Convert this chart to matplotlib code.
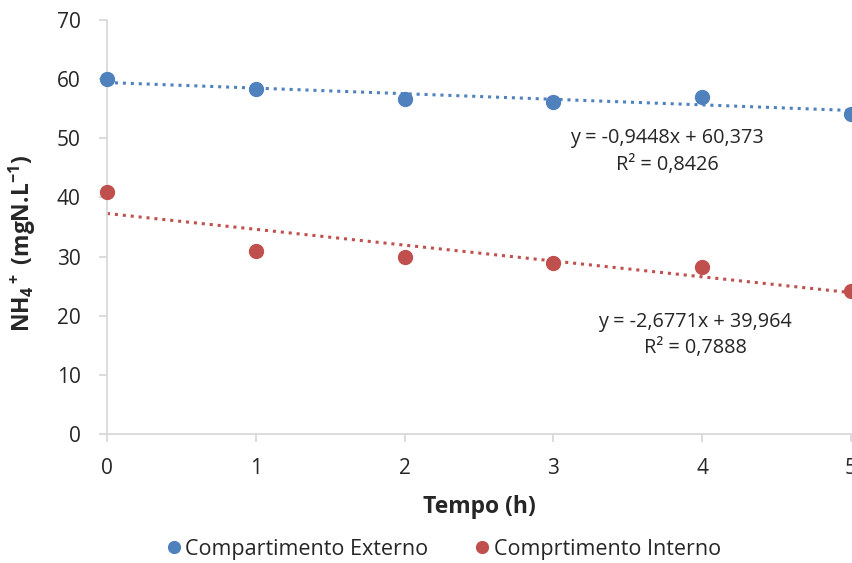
import matplotlib
matplotlib.use("Agg")
import matplotlib.pyplot as plt
import numpy as np

plt.rcParams['font.family'] = ['Open Sans', 'DejaVu Sans']
plt.rcParams['mathtext.default'] = 'regular'

# Time points (h)
tempo = [0, 1, 2, 3, 4, 5]
# NH4+ concentrations (mgN/L)
externo = [60.0, 58.3, 56.6, 56.2, 56.9, 54.1]
interno = [41.0, 31.0, 29.9, 28.9, 28.2, 24.1]

# Linear trend coefficients (x counted from 1 for the first sample)
ext_slope, ext_intercept, ext_r2 = -0.9448, 60.373, 0.8426
int_slope, int_intercept, int_r2 = -2.6771, 39.964, 0.7888

labels = ["Compartimento Externo", "Comprtimento Interno"]
blue = "#4F81BD"
red = "#C0504D"
grid_gray = "#D9D9D9"
text_col = "#262626"

fig = plt.figure(figsize=(8.53, 5.63), dpi=100)
ax = fig.add_axes([107 / 853, 1 - 434 / 563, 744 / 853, 414 / 563])

x = np.array(tempo, dtype=float)
ax.plot(x, ext_slope * (x + 1) + ext_intercept, ls=(0, (1, 1.6)), lw=2.2,
        color=blue, clip_on=False, zorder=2)
ax.plot(x, int_slope * (x + 1) + int_intercept, ls=(0, (1, 1.6)), lw=2.2,
        color=red, clip_on=False, zorder=2)

ax.plot(tempo, externo, 'o', ms=10, color=blue, label=labels[0],
        clip_on=False, zorder=3)
ax.plot(tempo, interno, 'o', ms=10, color=red, label=labels[1],
        clip_on=False, zorder=3)

def fmt(v, nd):
    return f"{v:.{nd}f}".replace(".", ",")

def eq_text(s, b):
    sign = "+" if b >= 0 else "-"
    return f"y = {fmt(s, 4)}x {sign} {fmt(abs(b), 3)}"

eq_size = 14.3
ax.text(3.763, 50.1, eq_text(ext_slope, ext_intercept), ha='center', va='center',
        fontsize=eq_size, color=text_col)
ax.text(3.763, 45.5, f"R² = {fmt(ext_r2, 4)}", ha='center', va='center',
        fontsize=eq_size, color=text_col)
ax.text(3.952, 18.9, eq_text(int_slope, int_intercept), ha='center', va='center',
        fontsize=eq_size, color=text_col)
ax.text(3.952, 14.5, f"R² = {fmt(int_r2, 4)}", ha='center', va='center',
        fontsize=eq_size, color=text_col)

ax.set_xlim(0, 5)
ax.set_ylim(0, 70)
ax.set_xticks(tempo)
ax.set_yticks(range(0, 71, 10))

for side in ['top', 'right']:
    ax.spines[side].set_visible(False)
for side in ['left', 'bottom']:
    ax.spines[side].set_color(grid_gray)
    ax.spines[side].set_linewidth(1.3)

ax.tick_params(axis='both', direction='out', length=6, width=1.3,
               color=grid_gray, labelsize=15, labelcolor=text_col)
ax.tick_params(axis='y', pad=13)
ax.tick_params(axis='x', pad=11)

ax.set_xlabel("Tempo (h)", fontsize=16.5, fontweight='bold', color=text_col, labelpad=12)
ax.set_ylabel(r"NH$_4$$^+$ (mgN.L$^{-1}$)", fontsize=16.5, fontweight='bold',
              color=text_col)
ax.yaxis.set_label_coords(-0.093, 0.46)

leg = fig.legend(loc='center', bbox_to_anchor=(442 / 853, 1 - 549 / 563), ncol=2,
                 frameon=False, fontsize=15.5, handletextpad=0.05, columnspacing=2.0,
                 markerscale=0.85, handlelength=1.0)
for t in leg.get_texts():
    t.set_color(text_col)

fig.savefig("out.png", dpi=100)
